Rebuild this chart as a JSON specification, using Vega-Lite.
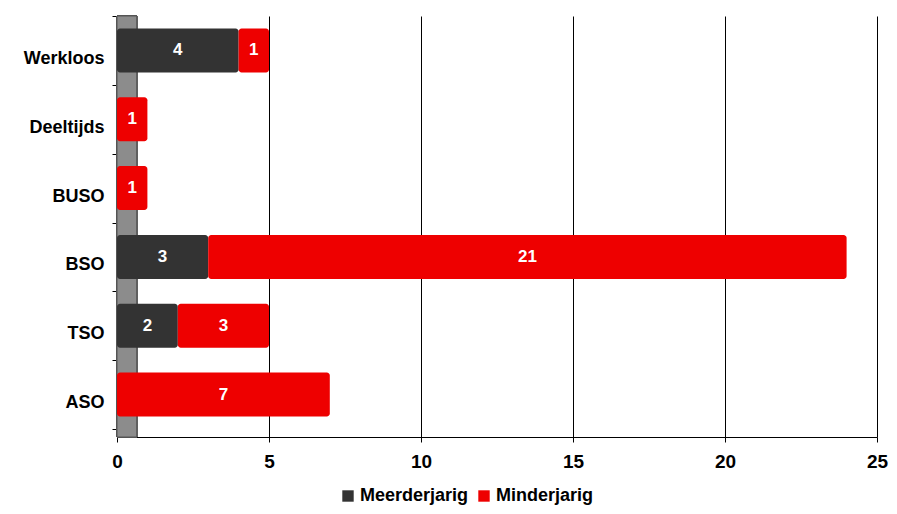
{
  "$schema": "https://vega.github.io/schema/vega-lite/v6.json",
  "width": 760,
  "height": 421,
  "autosize": {"type": "none"},
  "padding": {"left": 117, "top": 16, "right": 20, "bottom": 77},
  "background": "white",
  "config": {
    "view": {"stroke": null},
    "font": "Liberation Sans"
  },
  "data": {
    "values": [
      {"categorie": "Werkloos", "groep": "Meerderjarig", "aantal": 4},
      {"categorie": "Werkloos", "groep": "Minderjarig", "aantal": 1},
      {"categorie": "Deeltijds", "groep": "Minderjarig", "aantal": 1},
      {"categorie": "BUSO", "groep": "Minderjarig", "aantal": 1},
      {"categorie": "BSO", "groep": "Meerderjarig", "aantal": 3},
      {"categorie": "BSO", "groep": "Minderjarig", "aantal": 21},
      {"categorie": "TSO", "groep": "Meerderjarig", "aantal": 2},
      {"categorie": "TSO", "groep": "Minderjarig", "aantal": 3},
      {"categorie": "ASO", "groep": "Minderjarig", "aantal": 7}
    ]
  },
  "transform": [
    {"stack": "aantal", "groupby": ["categorie"], "sort": [{"field": "groep", "order": "ascending"}], "as": ["x0", "x1"]},
    {"calculate": "(datum.x0 + datum.x1) / 2", "as": "xm"}
  ],
  "encoding": {
    "y": {
      "field": "categorie",
      "type": "nominal",
      "sort": ["Werkloos", "Deeltijds", "BUSO", "BSO", "TSO", "ASO"],
      "scale": {"paddingInner": 0, "paddingOuter": 0.058, "align": 0},
      "axis": {
        "title": null,
        "domain": false,
        "ticks": true,
        "tickBand": "extent",
        "tickOffset": 8,
        "labelOffset": 8,
        "tickColor": "#000000",
        "tickSize": 5,
        "labelFont": "Liberation Sans",
        "labelFontWeight": "bold",
        "labelFontSize": 18,
        "labelColor": "#000000",
        "labelPadding": 8
      }
    }
  },
  "layer": [
    {
      "mark": {"type": "rect", "color": "#8c8c8c", "stroke": "#555555", "strokeWidth": 1},
      "encoding": {
        "x": {"datum": 0, "type": "quantitative", "scale": {"domain": [0, 25]}},
        "x2": {"datum": 0.65},
        "y": null
      }
    },
    {
      "mark": {"type": "bar", "height": 44, "cornerRadius": 3},
      "encoding": {
        "x": {
          "field": "x0",
          "type": "quantitative",
          "scale": {"domain": [0, 25], "nice": false},
          "axis": {
            "title": null,
            "values": [0, 5, 10, 15, 20, 25],
            "grid": true,
            "gridColor": "#000000",
            "gridOpacity": 1,
            "gridWidth": 1,
            "domainColor": "#000000",
            "tickColor": "#000000",
            "tickSize": 5,
            "labelFont": "Liberation Sans",
            "labelFontWeight": "bold",
            "labelFontSize": 19,
            "labelColor": "#000000",
            "labelPadding": 10,
            "labelFlush": false
          }
        },
        "x2": {"field": "x1"},
        "color": {
          "field": "groep",
          "type": "nominal",
          "scale": {"domain": ["Meerderjarig", "Minderjarig"], "range": ["#333333", "#ee0000"]},
          "legend": {
            "title": null,
            "orient": "none",
            "direction": "horizontal",
            "legendX": 222,
            "legendY": 471,
            "symbolType": "square",
            "symbolSize": 130,
            "symbolStrokeWidth": 0,
            "labelFont": "Liberation Sans",
            "labelFontWeight": "bold",
            "labelFontSize": 18,
            "labelColor": "#000000",
            "columnPadding": 6,
            "labelOffset": 3
          }
        }
      }
    },
    {
      "mark": {"type": "text", "color": "#ffffff", "fontWeight": "bold", "fontSize": 17, "font": "Liberation Sans", "align": "center", "baseline": "middle"},
      "encoding": {
        "x": {"field": "xm", "type": "quantitative"},
        "text": {"field": "aantal", "type": "quantitative"}
      }
    }
  ]
}
